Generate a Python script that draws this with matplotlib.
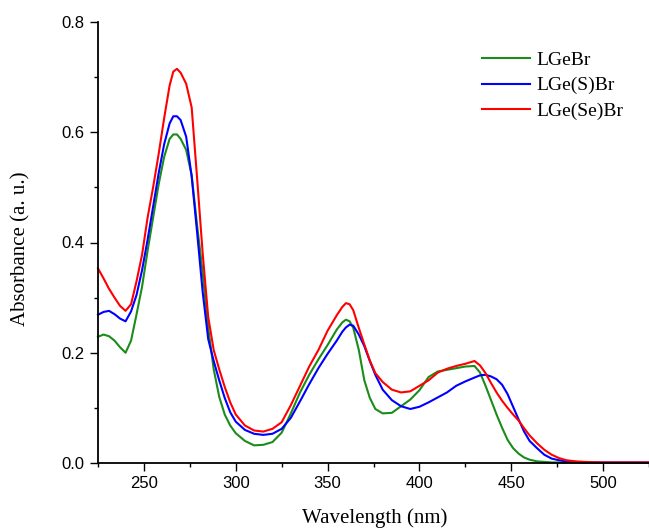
import numpy as np
import matplotlib
matplotlib.use("Agg")
import matplotlib.pyplot as plt
from matplotlib.ticker import MultipleLocator, FormatStrFormatter

wavelength = [225, 228, 231, 234, 237, 240, 243, 246, 249, 252, 255, 258, 261, 264, 266, 268,
              270, 273, 276, 279, 282, 285, 288, 291, 294, 297, 300, 305, 310, 315, 320,
              325, 330, 335, 340, 345, 350, 355, 358, 360, 362, 364, 367, 370, 373, 376, 380,
              385, 390, 395, 400, 405, 410, 415, 420, 425, 430, 433, 436, 439, 442, 445,
              448, 451, 454, 457, 460, 464, 468, 472, 476, 480, 485, 490, 500, 510, 525]

lgebr = [0.229, 0.233, 0.230, 0.222, 0.210, 0.200, 0.222, 0.270, 0.320, 0.385, 0.445, 0.505, 0.555, 0.588, 0.596, 0.596,
         0.588, 0.568, 0.522, 0.430, 0.345, 0.245, 0.170, 0.120, 0.088, 0.068, 0.054, 0.040, 0.032, 0.033, 0.038,
         0.055, 0.090, 0.128, 0.160, 0.188, 0.214, 0.242, 0.255, 0.260, 0.257, 0.245, 0.205, 0.150, 0.118, 0.098, 0.090,
         0.091, 0.103, 0.115, 0.132, 0.156, 0.166, 0.169, 0.172, 0.175, 0.176, 0.164, 0.140, 0.114, 0.088, 0.064,
         0.042, 0.027, 0.017, 0.010, 0.006, 0.003, 0.002, 0.001, 0.001, 0.001, 0.001, 0.001, np.nan, np.nan, np.nan]

lge_s_br = [0.269, 0.274, 0.276, 0.270, 0.262, 0.257, 0.275, 0.305, 0.350, 0.405, 0.465, 0.525, 0.578, 0.616, 0.629, 0.629,
            0.622, 0.592, 0.520, 0.417, 0.310, 0.225, 0.185, 0.150, 0.118, 0.092, 0.075, 0.060, 0.053, 0.051, 0.053,
            0.062, 0.082, 0.112, 0.143, 0.172, 0.198, 0.222, 0.238, 0.246, 0.251, 0.249, 0.233, 0.212, 0.185, 0.160, 0.133,
            0.114, 0.103, 0.098, 0.102, 0.110, 0.119, 0.128, 0.140, 0.148, 0.155, 0.159, 0.160, 0.157, 0.152, 0.142,
            0.125, 0.102, 0.079, 0.057, 0.040, 0.027, 0.015, 0.008, 0.005, 0.003, 0.002, 0.001, 0.001, 0.001, 0.001]

lge_se_br = [0.353, 0.335, 0.316, 0.300, 0.285, 0.276, 0.288, 0.330, 0.378, 0.445, 0.500, 0.560, 0.625, 0.685, 0.710, 0.715,
             0.708, 0.688, 0.645, 0.515, 0.380, 0.265, 0.205, 0.170, 0.138, 0.110, 0.088, 0.068, 0.059, 0.057, 0.062,
             0.074, 0.105, 0.140, 0.175, 0.205, 0.240, 0.268, 0.283, 0.290, 0.288, 0.277, 0.245, 0.215, 0.186, 0.163, 0.147,
             0.133, 0.128, 0.130, 0.140, 0.150, 0.164, 0.171, 0.176, 0.180, 0.185, 0.177, 0.163, 0.145, 0.128, 0.113,
             0.100, 0.088, 0.077, 0.063, 0.050, 0.036, 0.024, 0.015, 0.009, 0.005, 0.003, 0.002, 0.001, 0.001, 0.001]

labels = ["LGeBr", "LGe(S)Br", "LGe(Se)Br"]
colors = ["#1a8c1a", "#0000ff", "#ff0000"]

serif = ["Liberation Serif", "DejaVu Serif"]
sans = ["Liberation Sans", "DejaVu Sans"]

fig = plt.figure(figsize=(6.49, 5.29), dpi=100)
ax = fig.add_axes([98 / 649, 66 / 529, 551 / 649, 441 / 529])

for ys, lab, c in zip([lgebr, lge_s_br, lge_se_br], labels, colors):
    ax.plot(wavelength, ys, color=c, lw=1.5, label=lab, clip_on=False)

ax.set_xlim(225, 525)
ax.set_ylim(0, 0.8)
ax.xaxis.set_major_locator(MultipleLocator(50))
ax.xaxis.set_minor_locator(MultipleLocator(25))
ax.yaxis.set_major_locator(MultipleLocator(0.2))
ax.yaxis.set_minor_locator(MultipleLocator(0.1))
ax.yaxis.set_major_formatter(FormatStrFormatter("%.1f"))

for s in ["top", "right"]:
    ax.spines[s].set_visible(False)
for s in ["left", "bottom"]:
    ax.spines[s].set_linewidth(1.3)

ax.tick_params(which="major", direction="out", length=5.5, width=1.0, pad=4, labelsize=12)
ax.tick_params(which="minor", direction="out", length=3, width=1.0)
for t in ax.get_xticklabels() + ax.get_yticklabels():
    t.set_fontfamily(sans)

fig.text(375 / 649, 1 - 523 / 529, "Wavelength (nm)", family=serif, fontsize=15,
         ha="center", va="baseline")
fig.text(21 / 649, 1 - 249 / 529, "Absorbance (a. u.)", family=serif, fontsize=15,
         ha="center", va="center", rotation=90)

leg = ax.legend(loc="upper left", bbox_to_anchor=(481.7 / 649, 1 - 51 / 529),
                bbox_transform=fig.transFigure, frameon=False, borderpad=0, borderaxespad=0,
                handlelength=2.5, handletextpad=0.3, labelspacing=0.42,
                prop={"family": serif, "size": 14})

fig.savefig("out.png", dpi=100)
